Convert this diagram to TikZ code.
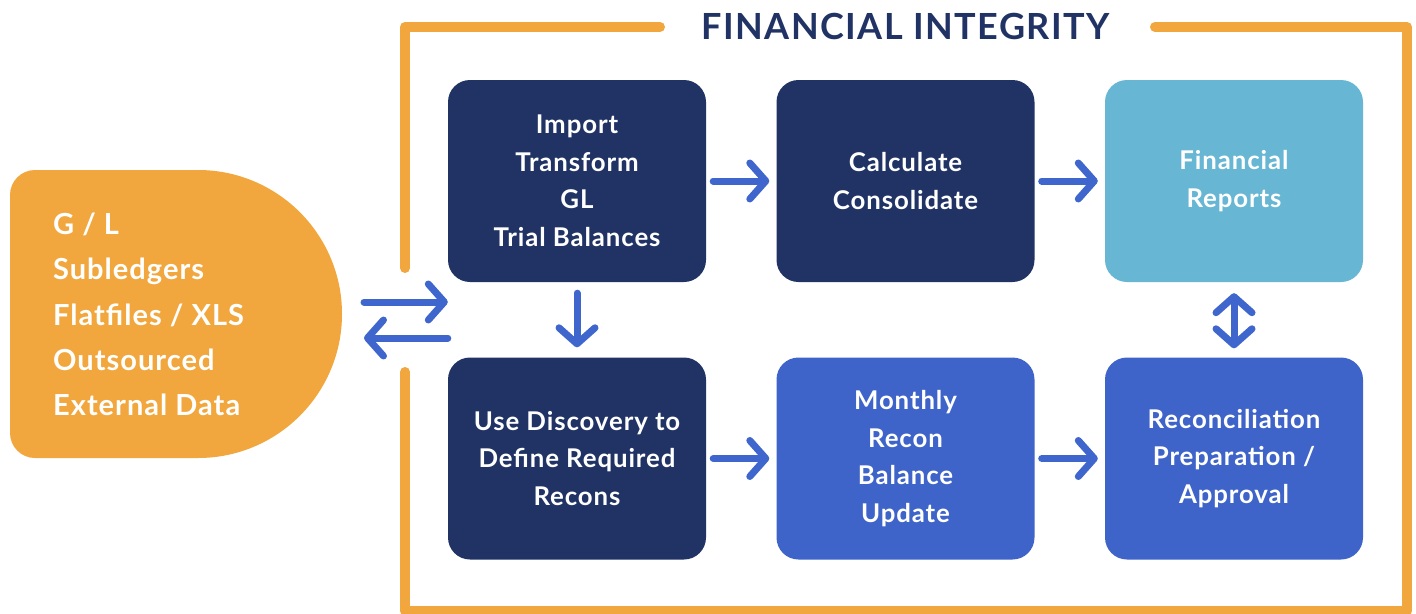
\documentclass[tikz,border=0pt]{standalone}
\usepackage{fontspec}
\setmainfont{Lato}
\usetikzlibrary{arrows.meta}
\definecolor{navy}{HTML}{213365}
\definecolor{midblue}{HTML}{3F64C9}
\definecolor{lightblue}{HTML}{67B6D3}
\definecolor{orng}{HTML}{F1A73D}
\definecolor{arrblue}{HTML}{3F66CC}
\tikzset{
  box/.style={rectangle, rounded corners=22pt, minimum width=258pt, minimum height=202pt,
    inner sep=0pt, text=white, align=center, font=\fontsize{25.8}{37.5}\selectfont\bfseries\addfontfeatures{LetterSpace=3.5}},
  frame/.style={draw=orng, line width=10pt, line cap=round, line join=round},
  flow/.style={draw=arrblue, line width=7pt, line cap=round, line join=round,
    -{Straight Barb[length=16pt, width=36pt, line cap=round, line join=round]}},
  flow2/.style={draw=arrblue, line width=7pt, line cap=round, line join=round,
    {Straight Barb[length=16pt, width=36pt, line cap=round, line join=round]}-{Straight Barb[length=16pt, width=36pt, line cap=round, line join=round]}}
}
\begin{document}
\begin{tikzpicture}[x=1pt, y=-1pt]
\useasboundingbox (0,0) rectangle (1416,613);
% frame
\draw[frame] (660,27) -- (405,27) -- (405,268);
\draw[frame] (405,372) -- (405,611) -- (1407,611) -- (1407,27) -- (1155,27);
\node[text=navy, font=\fontsize{36}{36}\selectfont\bfseries\addfontfeatures{LetterSpace=4}] (title) at (905.5,26.5) {FINANCIAL INTEGRITY};
% source shape
\fill[orng] (198,170) arc[start angle=-90, end angle=90, radius=144] -- (35,458)
  arc[start angle=90, end angle=180, radius=25] -- (10,195)
  arc[start angle=180, end angle=270, radius=25] -- cycle;
\node[anchor=west, text=white, align=left, inner sep=0pt, font=\fontsize{29}{45.3}\selectfont\bfseries\addfontfeatures{LetterSpace=3.5}] (src) at (53,314.5) {G / L\\Subledgers\\Flatfiles / XLS\\Outsourced\\External Data};
% boxes
\node[box, fill=navy] (b1) at (577,181) {Import\\Transform\\GL\\Trial Balances};
\node[box, fill=navy] (b2) at (905.5,181) {Calculate\\Consolidate};
\node[box, fill=lightblue] (b3) at (1234,181) {Financial\\Reports};
\node[box, fill=navy] (b4) at (577,458.5) {Use Discovery to\\Define Required\\Recons};
\node[box, fill=midblue] (b5) at (905.5,458.5) {Monthly\\Recon\\Balance\\Update};
\node[box, fill=midblue] (b6) at (1234,458.5) {Reconciliation\\Preparation /\\Approval};
% connectors
\coordinate (inS) at (364,302);
\coordinate (outE) at (364,338);
\draw[flow] (inS) -- (inS -| b1.west);
\draw[flow] (outE -| b1.west) -- (outE);
\draw[flow, shorten <=7pt, shorten >=7pt] (b1) -- (b2);
\draw[flow, shorten <=7pt, shorten >=7pt] (b2) -- (b3);
\draw[flow, shorten <=7pt, shorten >=7pt] (b4) -- (b5);
\draw[flow, shorten <=7pt, shorten >=7pt] (b5) -- (b6);
\draw[flow, shorten <=11pt, shorten >=10pt] (b1) -- (b4);
\draw[flow2, shorten <=11pt, shorten >=9pt] (b3) -- (b6);
\end{tikzpicture}
\end{document}
